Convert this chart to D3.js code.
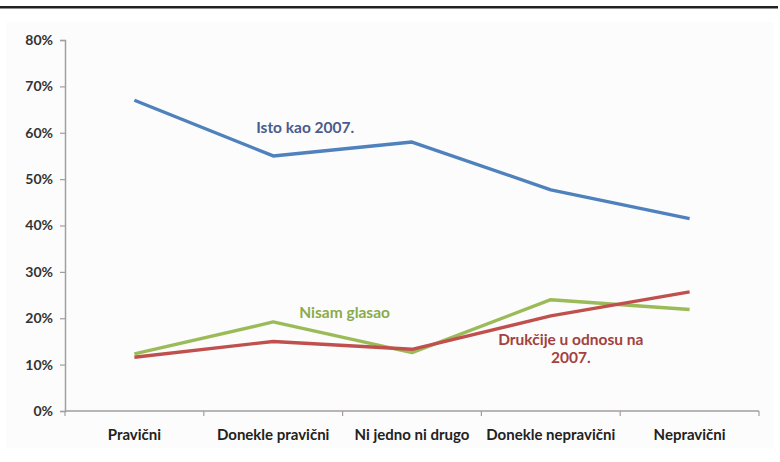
<!DOCTYPE html>
<html>
<head>
<meta charset="utf-8">
<script src="https://cdn.jsdelivr.net/npm/d3@7"></script>
<style>
  body { margin: 0; background: #fff; }
  svg { display: block; font-family: Lato, "Open Sans", sans-serif; }
</style>
</head>
<body>
<svg id="chart" width="780" height="462"></svg>
<script>
const categories = ["Pravični", "Donekle pravični", "Ni jedno ni drugo", "Donekle nepravični", "Nepravični"];
const istoKao2007 = [67.0, 55.0, 58.0, 47.7, 41.5];
const nisamGlasao = [12.3, 19.2, 12.6, 24.0, 21.9];
const drukcije = [11.6, 15.0, 13.3, 20.5, 25.7];
const yTicks = [0, 10, 20, 30, 40, 50, 60, 70, 80];

const series = [
  { name: "Isto kao 2007.", values: istoKao2007, color: "#4f81bd", label: ["Isto kao 2007."], labelColor: "#4a5b8c", lx: 1, ly: 60, dx: 32 },
  { name: "Nisam glasao", values: nisamGlasao, color: "#9bbb59", label: ["Nisam glasao"], labelColor: "#8aab4a", lx: 1.5, ly: 20, dx: 2 },
  { name: "Drukčije u odnosu na 2007.", values: drukcije, color: "#c0504d", label: ["Drukčije u odnosu na", "2007."], labelColor: "#a3413c", lx: 3, ly: 14.2, dx: 20 }
];

const svg = d3.select("#chart");
const margin = { top: 40, right: 21, bottom: 51, left: 65 };
const width = 780 - margin.left - margin.right;
const height = 462 - margin.top - margin.bottom;

// light panel behind the chart and the black rule on top
svg.append("rect").attr("x", 6).attr("y", 22).attr("width", 768).attr("height", 426).attr("fill", "#fcfcfc");
svg.append("rect").attr("x", 0).attr("y", 6).attr("width", 778).attr("height", 2.5).attr("fill", "#222");

const g = svg.append("g").attr("transform", `translate(${margin.left},${margin.top})`);

const x = d3.scaleBand().domain(categories).range([0, width]).paddingInner(0).paddingOuter(0);
const y = d3.scaleLinear().domain([0, 80]).range([height, 0]);
const cx = i => x(categories[i]) + x.bandwidth() / 2;

// y axis
const yAxis = g.append("g")
  .call(d3.axisLeft(y).tickValues(yTicks).tickFormat(d => d + "%").tickSize(5).tickPadding(7));
yAxis.select(".domain").attr("stroke", "#a39e9e").attr("stroke-width", 1.5);
yAxis.selectAll(".tick line").attr("stroke", "#a39e9e").attr("stroke-width", 1.2);
yAxis.selectAll(".tick text").attr("fill", "#333").attr("font-size", 14).attr("font-weight", "bold")
  .attr("font-family", "Lato, sans-serif");

// x axis with ticks at category boundaries
const xAxis = g.append("g").attr("transform", `translate(0,${height})`);
xAxis.append("line").attr("x1", 0).attr("x2", width).attr("stroke", "#a39e9e").attr("stroke-width", 1.5);
xAxis.selectAll("line.tk")
  .data(d3.range(categories.length + 1))
  .join("line")
  .attr("class", "tk")
  .attr("x1", i => i * x.bandwidth())
  .attr("x2", i => i * x.bandwidth())
  .attr("y1", 0).attr("y2", 5)
  .attr("stroke", "#a39e9e").attr("stroke-width", 1.2);
xAxis.selectAll("text")
  .data(categories)
  .join("text")
  .attr("x", (d, i) => cx(i))
  .attr("y", 29)
  .attr("text-anchor", "middle")
  .attr("font-size", 15)
  .attr("font-weight", "bold")
  .attr("fill", "#222")
  .text(d => d);

// lines
const line = d3.line().x((d, i) => cx(i)).y(d => y(d));
series.forEach(s => {
  g.append("path")
    .datum(s.values)
    .attr("fill", "none")
    .attr("stroke", s.color)
    .attr("stroke-width", 3.4)
    .attr("stroke-linejoin", "round")
    .attr("d", line);
});

// inline series labels
series.forEach(s => {
  const t = g.append("text")
    .attr("text-anchor", "middle")
    .attr("font-size", 15.5)
    .attr("font-weight", "bold")
    .attr("fill", s.labelColor);
  s.label.forEach((l, k) => {
    t.append("tspan")
      .attr("x", cx(Math.floor(s.lx)) + (s.lx % 1) * x.bandwidth() + s.dx)
      .attr("y", y(s.ly) + k * 18)
      .text(l);
  });
});
</script>
</body>
</html>
